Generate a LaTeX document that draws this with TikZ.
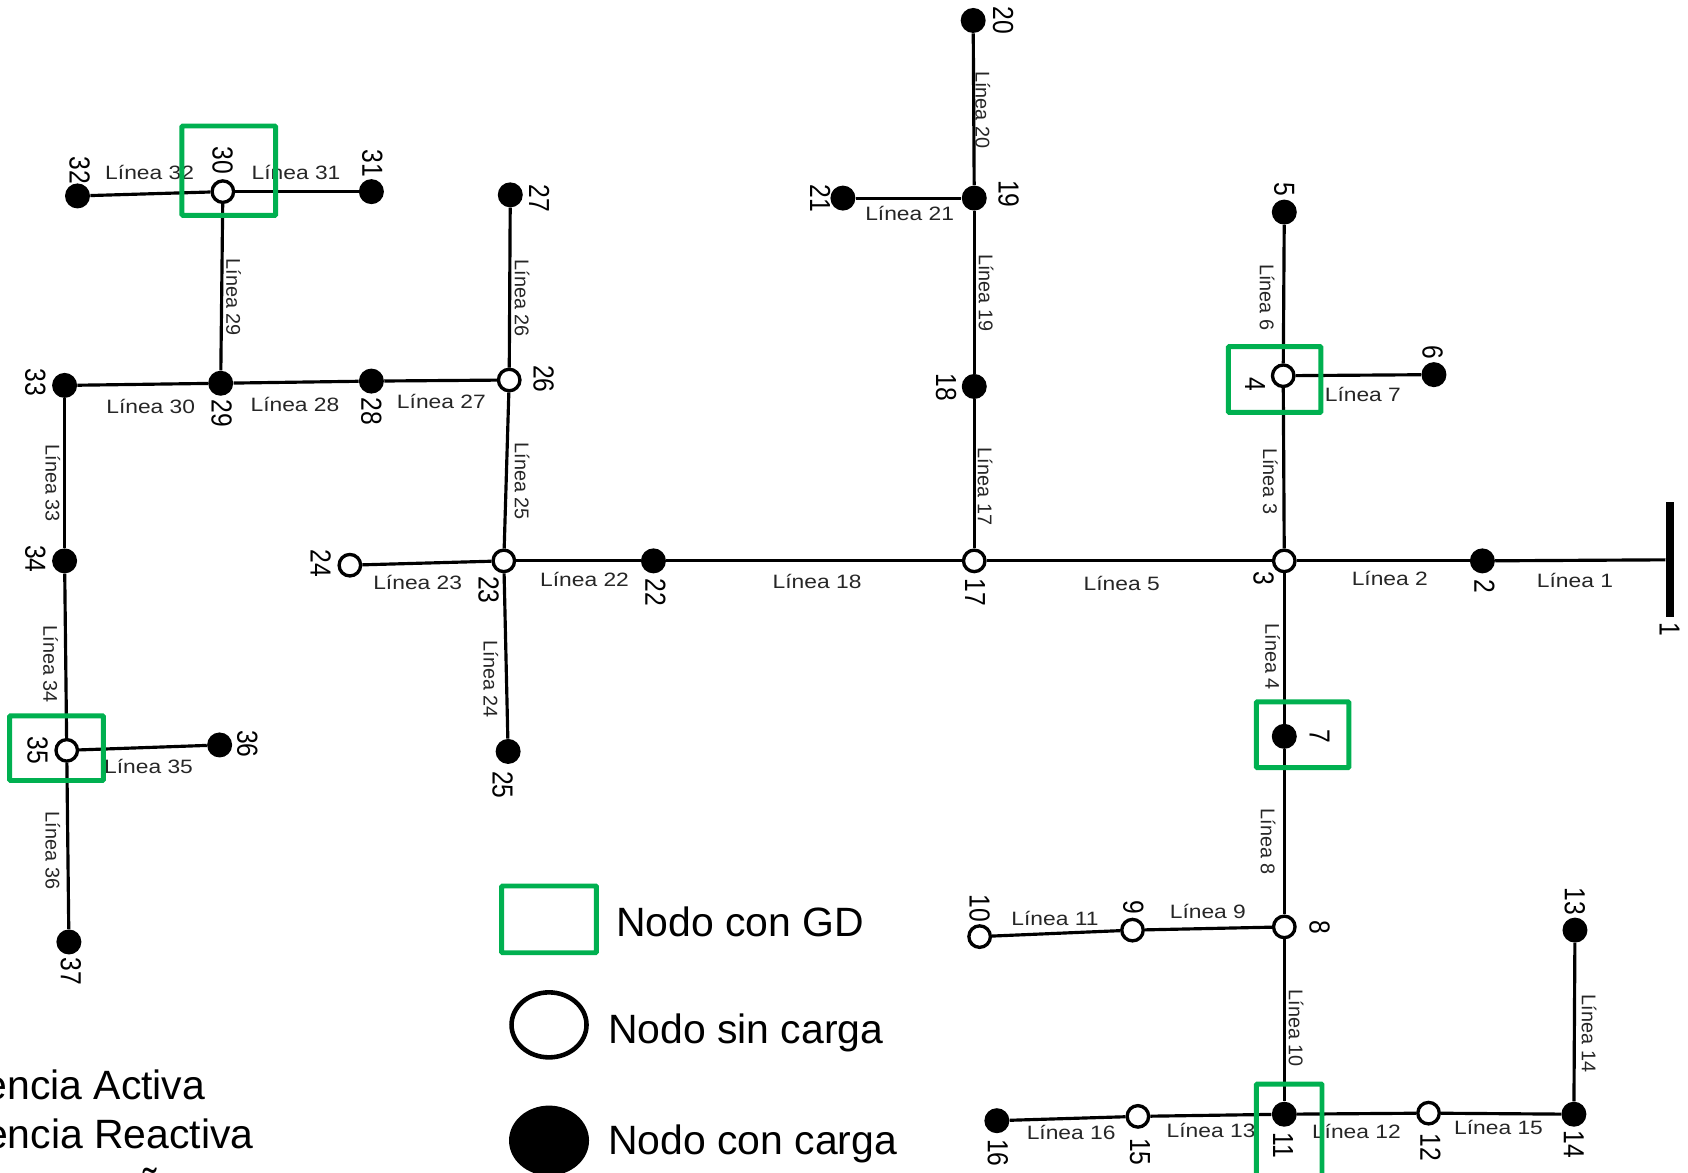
\documentclass[tikz,border=0pt]{standalone}
\usepackage{fontspec}
\setmainfont{Liberation Sans}
\newfontfamily\numfont[FakeStretch=0.85]{Liberation Sans}
\newfontfamily\linefont[FakeStretch=1.18]{Liberation Sans}
\usetikzlibrary{shapes.geometric}
\definecolor{gdgreen}{HTML}{00B050}

\tikzset{
  loadnode/.style={circle,fill=black,inner sep=0pt,minimum size=0.5cm},
  freenode/.style={circle,draw=black,line width=1.9pt,fill=white,inner sep=0pt,minimum size=0.43cm},
  feeder/.style={line width=1.8pt,black},
  gdbox/.style={draw=gdgreen,line width=2.8pt,rounded corners=0.5pt},
  numlabel/.style={font=\numfont\fontsize{16.5}{18}\selectfont,rotate=-90,inner sep=0pt,yshift=0.04cm},
  linelabel/.style={font=\linefont\fontsize{11}{13}\selectfont,inner sep=0pt,text=black!85},
  vlabel/.style={font=\fontsize{11.3}{13}\selectfont,inner sep=0pt,text=black!85,rotate=-90},
  legendtext/.style={font=\fontsize{23.3}{26}\selectfont,inner sep=0pt}
}

\begin{document}
\begin{tikzpicture}[x=0.021531cm,y=-0.021531cm]
\useasboundingbox (0,0) rectangle (1568,1089);

% Buses
\node[rectangle,fill=black,inner sep=0pt,minimum width=0.16cm,minimum height=2.3cm] (n1) at (1551,520) {};
\node[loadnode] (n2) at (1377,521) {};
\node[freenode] (n3) at (1193,521) {};
\node[freenode] (n4) at (1192,349) {};
\node[loadnode] (n5) at (1193,197) {};
\node[loadnode] (n6) at (1332,348) {};
\node[loadnode] (n7) at (1193,684) {};
\node[freenode] (n8) at (1193,861) {};
\node[freenode] (n9) at (1052,864) {};
\node[freenode] (n10) at (910,870) {};
\node[loadnode] (n11) at (1193,1035) {};
\node[freenode] (n12) at (1327,1034) {};
\node[loadnode] (n13) at (1463,864) {};
\node[loadnode] (n14) at (1462,1035) {};
\node[freenode] (n15) at (1057,1037) {};
\node[loadnode] (n16) at (926,1041) {};
\node[freenode] (n17) at (905,521) {};
\node[loadnode] (n18) at (905,359) {};
\node[loadnode] (n19) at (905,184) {};
\node[loadnode] (n20) at (904,19) {};
\node[loadnode] (n21) at (783,184) {};
\node[loadnode] (n22) at (607,521) {};
\node[freenode] (n23) at (468,521) {};
\node[freenode] (n24) at (325,525) {};
\node[loadnode] (n25) at (472,698) {};
\node[freenode] (n26) at (473,353) {};
\node[loadnode] (n27) at (474,181) {};
\node[loadnode] (n28) at (345,354) {};
\node[loadnode] (n29) at (205,356) {};
\node[freenode] (n30) at (207,178) {};
\node[loadnode] (n31) at (345,178) {};
\node[loadnode] (n32) at (72,182) {};
\node[loadnode] (n33) at (60,358) {};
\node[loadnode] (n34) at (60,521) {};
\node[freenode] (n35) at (62,697) {};
\node[loadnode] (n36) at (204,692) {};
\node[loadnode] (n37) at (64,875) {};

% Lines between buses
\draw[feeder] (n2) -- (n1);
\draw[feeder] (n3) -- (n2);
\draw[feeder] (n3) -- (n4);
\draw[feeder] (n3) -- (n7);
\draw[feeder] (n4) -- (n5);
\draw[feeder] (n4) -- (n6);
\draw[feeder] (n17) -- (n3);
\draw[feeder] (n7) -- (n8);
\draw[feeder] (n9) -- (n8);
\draw[feeder] (n10) -- (n9);
\draw[feeder] (n8) -- (n11);
\draw[feeder] (n11) -- (n12);
\draw[feeder] (n12) -- (n14);
\draw[feeder] (n13) -- (n14);
\draw[feeder] (n15) -- (n11);
\draw[feeder] (n16) -- (n15);
\draw[feeder] (n17) -- (n18);
\draw[feeder] (n18) -- (n19);
\draw[feeder] (n19) -- (n20);
\draw[feeder] (n21) -- (n19);
\draw[feeder] (n22) -- (n17);
\draw[feeder] (n23) -- (n22);
\draw[feeder] (n24) -- (n23);
\draw[feeder] (n23) -- (n25);
\draw[feeder] (n23) -- (n26);
\draw[feeder] (n26) -- (n27);
\draw[feeder] (n28) -- (n26);
\draw[feeder] (n29) -- (n28);
\draw[feeder] (n29) -- (n30);
\draw[feeder] (n30) -- (n31);
\draw[feeder] (n32) -- (n30);
\draw[feeder] (n33) -- (n29);
\draw[feeder] (n33) -- (n34);
\draw[feeder] (n34) -- (n35);
\draw[feeder] (n35) -- (n36);
\draw[feeder] (n35) -- (n37);

% Bus numbers
\node[numlabel] (t1) at (1549,585) {1};
\node[numlabel] (t2) at (1377,545) {2};
\node[numlabel] (t3) at (1172,537) {3};
\node[numlabel] (t4) at (1164,357) {4};
\node[numlabel] (t5) at (1191,176) {5};
\node[numlabel] (t6) at (1329,327) {6};
\node[numlabel] (t7) at (1224,684) {7};
\node[numlabel] (t8) at (1224,861) {8};
\node[numlabel] (t9) at (1051,843) {9};
\node[numlabel] (t10) at (908,844) {10};
\node[numlabel] (t11) at (1190,1064) {11};
\node[numlabel] (t12) at (1327,1066) {12};
\node[numlabel] (t13) at (1461,837) {13};
\node[numlabel] (t14) at (1460,1063) {14};
\node[numlabel] (t15) at (1057,1070) {15};
\node[numlabel] (t16) at (925,1071) {16};
\node[numlabel] (t17) at (904,550) {17};
\node[numlabel] (t18) at (877,360) {18};
\node[numlabel] (t19) at (935,180) {19};
\node[numlabel] (t20) at (930,19) {20};
\node[numlabel] (t21) at (760,184) {21};
\node[numlabel] (t22) at (607,550) {22};
\node[numlabel] (t23) at (452,548) {23};
\node[numlabel] (t24) at (296,523) {24};
\node[numlabel] (t25) at (465,729) {25};
\node[numlabel] (t26) at (503,352) {26};
\node[numlabel] (t27) at (499,184) {27};
\node[numlabel] (t28) at (343,382) {28};
\node[numlabel] (t29) at (204,384) {29};
\node[numlabel] (t30) at (205,149) {30};
\node[numlabel] (t31) at (344,152) {31};
\node[numlabel] (t32) at (72,158) {32};
\node[numlabel] (t33) at (31,355) {33};
\node[numlabel] (t34) at (31,519) {34};
\node[numlabel] (t35) at (33,697) {35};
\node[numlabel] (t36) at (228,691) {36};
\node[numlabel] (t37) at (64,902) {37};

% Line names
\node[linelabel] (l1) at (1463,539) {Línea 1};
\node[linelabel] (l2) at (1291,537) {Línea 2};
\node[vlabel] (l3) at (1180,447) {Línea 3};
\node[vlabel] (l4) at (1182,610) {Línea 4};
\node[linelabel] (l5) at (1042,542) {Línea 5};
\node[vlabel] (l6) at (1177,276) {Línea 6};
\node[linelabel] (l7) at (1266,366) {Línea 7};
\node[vlabel] (l8) at (1178,782) {Línea 8};
\node[linelabel] (l9) at (1122,847) {Línea 9};
\node[vlabel] (l10) at (1204,955) {Línea 10};
\node[linelabel] (l11) at (980,853) {Línea 11};
\node[linelabel] (l12) at (1260,1051) {Línea 12};
\node[linelabel] (l13) at (1125,1050) {Línea 13};
\node[vlabel] (l14) at (1476,960) {Línea 14};
\node[linelabel] (l15) at (1392,1047) {Línea 15};
\node[linelabel] (l16) at (995,1052) {Línea 16};
\node[vlabel] (l17) at (915,452) {Línea 17};
\node[linelabel] (l18) at (759,540) {Línea 18};
\node[vlabel] (l19) at (916,272) {Línea 19};
\node[vlabel] (l20) at (913,102) {Línea 20};
\node[linelabel] (l21) at (845,198) {Línea 21};
\node[linelabel] (l22) at (543,538) {Línea 22};
\node[linelabel] (l23) at (388,541) {Línea 23};
\node[vlabel] (l24) at (456,631) {Línea 24};
\node[vlabel] (l25) at (485,447) {Línea 25};
\node[vlabel] (l26) at (485,277) {Línea 26};
\node[linelabel] (l27) at (410,373) {Línea 27};
\node[linelabel] (l28) at (274,376) {Línea 28};
\node[vlabel] (l29) at (217,276) {Línea 29};
\node[linelabel] (l30) at (140,378) {Línea 30};
\node[linelabel] (l31) at (275,160) {Línea 31};
\node[linelabel] (l32) at (139,160) {Línea 32};
\node[vlabel] (l33) at (49,449) {Línea 33};
\node[vlabel] (l34) at (47,617) {Línea 34};
\node[linelabel] (l35) at (138,712) {Línea 35};
\node[vlabel] (l36) at (49,790) {Línea 36};

% Buses with GD
\draw[gdbox] (169,117) rectangle (256,200);
\draw[gdbox] (1141,322) rectangle (1227,383);
\draw[gdbox] (1167,652) rectangle (1253,713);
\draw[gdbox] (9,665) rectangle (96,725);
\draw[gdbox] (1167,1007) rectangle (1228,1100);

% Legend
\draw[gdbox] (466,823) rectangle (554,885);
\node[legendtext,anchor=base west] (legGD) at (572,870) {Nodo con GD};
\node[ellipse,draw=black,line width=2.6pt,fill=white,inner sep=0pt,minimum width=1.5cm,minimum height=1.3cm] (legFree) at (510,952) {};
\node[legendtext,anchor=base west] (legSin) at (564.5,969) {Nodo sin carga};
\node[ellipse,fill=black,inner sep=0pt,minimum width=1.6cm,minimum height=1.4cm] (legLoad) at (510,1059.5) {};
\node[legendtext,anchor=base west] (legCon) at (564.5,1072) {Nodo con carga};

% Bottom left text, cut by the page
\node[legendtext,anchor=base east] (txtP) at (191,1021) {encia Activa};
\node[legendtext,anchor=base east] (txtQ) at (236,1066.5) {encia Reactiva};
\node[legendtext,anchor=base] (txtT) at (139,1112) {ñ};
\end{tikzpicture}
\end{document}
